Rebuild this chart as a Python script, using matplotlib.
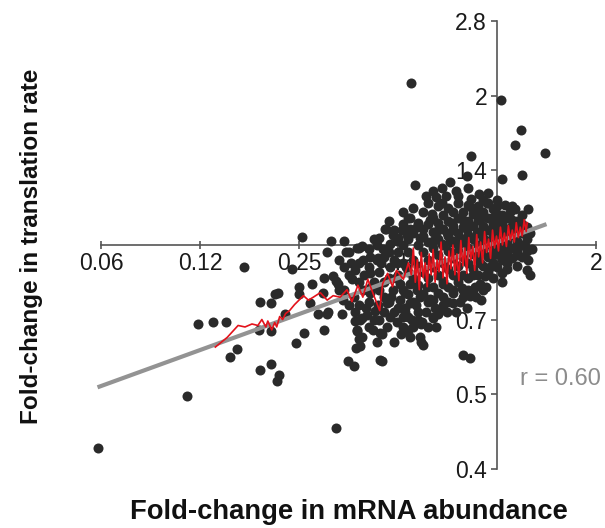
import numpy as np
import matplotlib
matplotlib.use('Agg')
import matplotlib.pyplot as plt

plt.rcParams['font.family'] = ['Liberation Sans', 'DejaVu Sans']

# log2 fold-change per gene: (mRNA abundance, translation rate)
outer_genes = [
    (-0.87, 1.09), (0.04, 0.975), (0.24, 0.77), (0.18, 0.67), (0.48, 0.62),
    (-0.27, 0.60), (-0.31, 0.46), (0.05, 0.44), (0.25, 0.47), (-0.83, 0.40),
    (-0.65, 0.36), (-0.56, 0.38), (-0.48, 0.42), (-0.40, 0.33), (-0.56, 0.28),
    (-0.19, 0.34), (-0.27, 0.31), (-0.10, 0.28), (0.00, 0.30), (0.31, 0.24),
    (0.13, 0.22), (-0.88, 0.18), (-1.13, 0.11), (-1.97, 0.055), (-1.68, 0.03),
    (-1.55, 0.03), (-2.56, -0.15), (-1.72, -0.05), (-1.53, -0.05), (-1.40, -0.02),
    (-1.55, -0.15), (-2.08, -0.16), (0.31, -0.10), (0.30, -0.17),
    (-4.04, -1.36), (-3.14, -1.01), (-3.03, -0.53), (-2.87, -0.52), (-2.74, -0.52),
    (-2.70, -0.75), (-2.63, -0.70), (-2.40, -0.84), (-2.29, -0.80), (-2.21, -0.875),
    (-2.23, -0.91), (-2.40, -0.38), (-2.29, -0.39), (-2.25, -0.33), (-2.22, -0.32),
    (-2.29, -0.58), (-2.41, -0.57), (-2.15, -0.46), (-2.04, -0.66), (-1.95, -0.59),
    (-1.75, -0.57), (-1.81, -0.46), (-1.72, -0.46), (-2.00, -0.33), (-2.00, -0.28),
    (-1.89, -0.39), (-1.75, -0.22), (-1.63, -0.24), (-1.51, -0.78), (-1.45, -0.81),
    (-1.43, -0.69), (-1.42, -0.58), (-1.40, -0.63), (-1.44, -0.51), (-1.37, -0.49),
    (-1.17, -0.78), (-1.17, -0.60), (-1.63, -1.23), (-0.91, -0.58), (-0.77, -0.53),
    (-0.75, -0.67), (-0.77, -0.65), (-0.35, -0.74), (-0.28, -0.76), (-0.17, -0.37),
    (-0.65, -0.49), (-1.05, -0.45),
]

mid_genes = [
    (-1.66, -0.21), (-1.87, -0.26), (-1.76, -0.32), (-1.61, -0.26), (-1.56, -0.37),
    (-1.71, -0.45), (-1.57, -0.46), (-1.44, -0.45), (-1.39, -0.50), (-1.42, -0.57),
    (-1.37, -0.62), (-1.39, -0.68), (-1.19, -0.59), (-1.19, -0.77), (-1.32, -0.47),
    (-1.21, -0.40), (-1.09, -0.48), (-1.02, -0.52), (-0.95, -0.55), (-1.29, -0.32),
    (-1.36, -0.30), (-1.47, -0.23), (-1.29, -0.19), (-1.44, -0.17), (-1.36, -0.10),
    (-1.22, -0.10), (-1.09, -0.15), (-1.01, -0.12), (-1.06, -0.30), (-0.98, -0.37),
    (-0.93, -0.42), (-1.12, -0.39), (-0.88, -0.26), (-0.90, -0.48), (-1.26, -0.57),
    (-1.24, -0.44),
    (-1.42, -0.02), (-1.37, -0.01), (-1.22, 0.00), (-1.14, 0.11), (-0.90, 0.18),
    (-1.06, 0.07), (-0.96, 0.10), (-1.09, 0.01), (-1.02, 0.03), (-1.16, -0.03),
    (-1.29, -0.08), (-1.21, -0.09),
    (-1.60, -0.10), (-1.60, -0.30), (-1.50, -0.05), (-1.50, -0.40), (-1.50, -0.20),
    (-1.40, -0.12), (-1.40, -0.25), (-1.40, -0.40), (-1.30, -0.03), (-1.30, -0.15),
    (-1.30, -0.38), (-1.30, -0.55), (-1.25, -0.25), (-1.25, 0.04), (-1.20, -0.18),
    (-1.20, -0.30), (-1.20, -0.50), (-1.20, 0.05), (-1.15, -0.08), (-1.15, -0.35),
    (-1.15, -0.45), (-1.10, -0.22), (-1.10, -0.05), (-1.10, -0.38), (-1.10, 0.16),
    (-1.05, -0.10), (-1.05, 0.10),
    (-1.55, -0.30), (-1.48, -0.12), (-1.45, -0.35), (-1.35, -0.20), (-1.33, -0.42),
    (-1.28, -0.28), (-1.25, -0.50), (-1.22, -0.65), (-1.18, -0.12), (-1.15, -0.25),
    (-1.12, -0.55), (-1.08, -0.35), (-1.05, -0.65), (-1.03, -0.22), (-1.00, -0.42),
    (-0.97, -0.60), (-0.95, -0.48), (-0.92, -0.15), (-0.88, -0.62), (-0.85, -0.55),
    (-0.82, -0.40), (-0.80, -0.50), (-0.78, -0.35), (-0.72, -0.45), (-0.70, -0.55),
    (-0.68, -0.36), (-0.62, -0.55), (-0.60, -0.46), (-0.50, -0.38), (-0.42, -0.45),
    (-0.38, -0.38), (-0.30, -0.30), (-0.22, -0.35), (-0.12, -0.28),
]

core_genes = [
    (-0.11, 0.28), (-0.66, 0.21), (-0.68, 0.17), (-0.46, 0.15), (-0.35, 0.17),
    (-0.26, 0.25), (-0.21, 0.22), (-0.16, 0.19), (-0.06, 0.18), (0.00, 0.21),
    (0.15, 0.17), (-0.88, 0.11), (-0.81, 0.12), (-0.75, 0.11), (-0.91, 0.07),
    (-0.60, 0.10), (-0.51, 0.08), (-0.45, 0.10), (-0.31, 0.11), (-0.38, 0.05),
    (-0.21, 0.08), (-0.13, 0.10), (0.03, 0.11), (0.06, 0.08), (0.23, 0.10),
    (-0.65, 0.03), (-0.56, 0.01), (-0.48, 0.02), (-0.40, 0.00), (-0.11, 0.03),
    (0.11, -0.01), (0.20, -0.02), (0.28, -0.01), (-0.78, 0.05),
    (0.20, -0.07), (0.10, -0.12), (0.05, -0.19), (-0.08, -0.15), (-0.13, -0.21),
    (-0.18, -0.26), (-0.23, -0.28), (-0.28, -0.34), (-0.35, -0.35), (-0.31, -0.42),
    (-0.45, -0.39), (-0.51, -0.45), (-0.56, -0.42), (-0.63, -0.42), (-0.65, -0.48),
    (-0.65, -0.37), (-0.55, -0.35), (-0.45, -0.32), (-0.36, -0.29), (-0.88, -0.39),
    (-0.93, -0.45), (-0.86, -0.50), (-0.76, -0.52), (-0.90, -0.57), (-0.78, -0.62),
    (-0.93, -0.32), (-0.81, -0.30), (-0.71, -0.28), (-0.55, -0.26), (-0.40, -0.22),
    (-0.25, -0.20), (-0.98, -0.26), (0.06, -0.08), (-0.06, -0.07), (-0.18, -0.12),
    (-1.00, -0.05), (-1.00, -0.20), (-1.00, 0.05),
    (-0.95, -0.12), (-0.95, 0.00), (-0.95, -0.30), (-0.95, 0.14),
    (-0.90, -0.05), (-0.90, -0.18), (-0.90, 0.04), (-0.90, -0.33),
    (-0.85, -0.10), (-0.85, 0.08), (-0.85, -0.22), (-0.85, -0.38),
    (-0.80, 0.00), (-0.80, -0.14), (-0.80, -0.27), (-0.80, 0.15), (-0.80, -0.45),
    (-0.75, -0.05), (-0.75, 0.06), (-0.75, -0.18), (-0.75, -0.33), (-0.75, 0.22),
    (-0.70, -0.10), (-0.70, 0.02), (-0.70, -0.22), (-0.70, 0.14), (-0.70, -0.38),
    (-0.70, 0.28), (-0.65, -0.02), (-0.65, -0.15), (-0.65, 0.09), (-0.65, -0.28),
    (-0.65, 0.18), (-0.60, -0.07), (-0.60, 0.04), (-0.60, -0.20), (-0.60, 0.15),
    (-0.60, -0.32), (-0.60, 0.26), (-0.55, -0.12), (-0.55, 0.00), (-0.55, 0.11),
    (-0.55, -0.24), (-0.55, 0.20), (-0.55, -0.40), (-0.50, -0.04), (-0.50, 0.06),
    (-0.50, -0.16), (-0.50, 0.16), (-0.50, -0.28), (-0.50, 0.25), (-0.45, -0.09),
    (-0.45, 0.03), (-0.45, -0.20), (-0.45, 0.13), (-0.45, -0.30), (-0.45, 0.22),
    (-0.40, -0.04), (-0.40, 0.08), (-0.40, -0.14), (-0.40, 0.18), (-0.40, -0.25),
    (-0.40, 0.28), (-0.35, -0.08), (-0.35, 0.02), (-0.35, 0.12), (-0.35, -0.20),
    (-0.35, 0.22), (-0.35, -0.30), (-0.30, -0.02), (-0.30, 0.07), (-0.30, -0.12),
    (-0.30, 0.16), (-0.30, -0.22), (-0.30, 0.27), (-0.25, -0.06), (-0.25, 0.04),
    (-0.25, 0.13), (-0.25, -0.16), (-0.25, 0.21), (-0.25, -0.32), (-0.20, 0.00),
    (-0.20, 0.09), (-0.20, -0.08), (-0.20, 0.17), (-0.20, -0.20), (-0.20, 0.26),
    (-0.15, -0.04), (-0.15, 0.05), (-0.15, 0.13), (-0.15, -0.14), (-0.15, 0.22),
    (-0.15, -0.30), (-0.10, 0.01), (-0.10, 0.10), (-0.10, -0.08), (-0.10, 0.18),
    (-0.10, -0.18), (-0.10, 0.35), (-0.05, -0.03), (-0.05, 0.06), (-0.05, 0.14),
    (-0.05, -0.12), (-0.05, 0.24), (-0.05, -0.22), (0.00, 0.02), (0.00, 0.10),
    (0.00, -0.06), (0.00, 0.17), (0.00, -0.15), (0.00, 0.26), (0.05, -0.02),
    (0.05, 0.07), (0.05, 0.14), (0.05, -0.10), (0.05, 0.20), (0.05, -0.25),
    (0.10, 0.03), (0.10, 0.11), (0.10, -0.05), (0.10, 0.18), (0.10, -0.16),
    (0.15, -0.02), (0.15, 0.07), (0.15, 0.13), (0.15, -0.09), (0.15, 0.26),
    (0.20, 0.03), (0.20, 0.10), (0.20, -0.05), (0.20, 0.16), (0.20, -0.14),
    (0.25, 0.00), (0.25, 0.08), (0.25, -0.08), (0.25, 0.14),
    (0.30, 0.04), (0.30, -0.04), (0.30, 0.12),
    (-0.95, 0.22), (-0.85, 0.25), (-0.72, 0.33), (-0.62, 0.32), (-0.52, 0.33),
    (-0.42, 0.36), (-0.30, 0.38), (-0.15, 0.30), (0.08, 0.27), (0.18, 0.24),
    (0.25, 0.20), (0.33, 0.08), (0.35, -0.03), (0.33, -0.20),
]

# running mean of translation vs mRNA (red)
trend = [
    (-2.85, -0.685), (-2.73, -0.62), (-2.62, -0.54), (-2.55, -0.55), (-2.48, -0.53),
    (-2.42, -0.54), (-2.38, -0.50), (-2.34, -0.55), (-2.32, -0.51), (-2.28, -0.57),
    (-2.25, -0.52), (-2.23, -0.55), (-2.20, -0.48), (-2.17, -0.50), (-2.14, -0.46),
    (-2.10, -0.44), (-2.05, -0.40), (-1.96, -0.34), (-1.91, -0.37), (-1.86, -0.35),
    (-1.79, -0.32), (-1.72, -0.37), (-1.66, -0.34), (-1.59, -0.35), (-1.52, -0.30),
    (-1.47, -0.38), (-1.41, -0.27), (-1.36, -0.35), (-1.31, -0.23), (-1.26, -0.32),
    (-1.19, -0.44), (-1.16, -0.26), (-1.11, -0.19), (-1.06, -0.28), (-1.02, -0.17),
    (-0.95, -0.23), (-0.90, -0.12),
    (-0.87, -0.20), (-0.85, -0.02), (-0.83, -0.25), (-0.81, -0.10), (-0.79, -0.30),
    (-0.77, -0.05), (-0.75, -0.22), (-0.73, -0.12), (-0.71, -0.28), (-0.69, -0.06),
    (-0.67, -0.20), (-0.65, -0.03), (-0.63, -0.25), (-0.61, -0.10), (-0.59, -0.18),
    (-0.57, 0.02), (-0.55, -0.22), (-0.53, -0.08), (-0.51, -0.26), (-0.49, -0.04),
    (-0.47, -0.16), (-0.45, 0.00), (-0.43, -0.20), (-0.41, -0.06), (-0.39, -0.24),
    (-0.37, 0.03), (-0.35, -0.14), (-0.33, -0.02), (-0.31, -0.19), (-0.29, 0.05),
    (-0.27, -0.10), (-0.25, -0.01), (-0.23, -0.17), (-0.21, 0.07), (-0.19, -0.08),
    (-0.17, 0.02), (-0.15, -0.12), (-0.13, 0.09), (-0.11, -0.05), (-0.09, 0.04),
    (-0.07, -0.09), (-0.05, 0.10), (-0.03, -0.02), (-0.01, 0.06), (0.01, -0.04),
    (0.03, 0.12), (0.05, 0.00), (0.07, 0.08), (0.09, -0.01), (0.11, 0.13),
    (0.13, 0.03), (0.15, 0.10), (0.17, 0.02), (0.19, 0.15), (0.21, 0.05),
    (0.23, 0.12), (0.25, 0.06), (0.27, 0.17), (0.29, 0.09), (0.30, 0.15),
]

# linear fit (grey), end points
fit_mrna = [-4.04, 0.495]
fit_transl = [-0.955, 0.14]

x_ticks = [-4, -3, -2, -1, 0, 1]
x_labels = ['0.06', '0.12', '0.25', '0.5', '', '2']
y_ticks = [-1.5, -1, -0.5, 0, 0.5, 1, 1.5]
y_labels = ['0.4', '0.5', '0.7', '', '1.4', '2', '2.8']
r_label = 'r = 0.60'

axis_col = '#555555'

fig = plt.figure(figsize=(6.05, 5.28), dpi=100)
ax = fig.add_axes([0, 0, 1, 1])
ax.set_xlim(-5.025, 1.086)
ax.set_ylim(-1.899, 1.644)
ax.patch.set_alpha(0)

genes = outer_genes + mid_genes + core_genes
gx, gy = zip(*genes)
ax.scatter(gx, gy, s=52, color='#2a2a2a', linewidths=0, zorder=3)

ax.plot(fit_mrna, fit_transl, color='#939393', linewidth=3, solid_capstyle='butt', zorder=4)
tx, ty = zip(*trend)
ax.plot(tx, ty, color='#e3121b', linewidth=1.2, zorder=5)

for side in ['top', 'right']:
    ax.spines[side].set_visible(False)
ax.spines['left'].set_position(('data', 0))
ax.spines['bottom'].set_position(('data', 0))
ax.spines['left'].set_bounds(-1.5, 1.5)
ax.spines['bottom'].set_bounds(-4, 1)
for side in ['left', 'bottom']:
    ax.spines[side].set_color(axis_col)
    ax.spines[side].set_linewidth(1.2)

ax.set_xticks(x_ticks)
ax.set_xticklabels(x_labels)
ax.set_yticks(y_ticks)
ax.set_yticklabels(y_labels)
ax.tick_params(axis='x', direction='inout', length=6, width=1.2, color=axis_col,
               labelcolor='#1a1a1a', labelsize=16.5, pad=2)
ax.tick_params(axis='y', direction='out', length=4.5, width=1.2, color=axis_col,
               labelcolor='#1a1a1a', labelsize=16.5, pad=3)

ax.text(0.23, -0.90, r_label, ha='left', va='center', color='#8c8c8c', fontsize=17)

fig.text(349 / 605, 1 - 512 / 528, 'Fold-change in mRNA abundance', ha='center', va='center',
         fontsize=19.7, fontweight='bold', color='#111111')
fig.text(32 / 605, 1 - 246 / 528, 'Fold-change in translation rate', ha='center', va='center',
         rotation=90, fontsize=17.5, fontweight='bold', color='#111111')

fig.savefig('out.png', dpi=100)
